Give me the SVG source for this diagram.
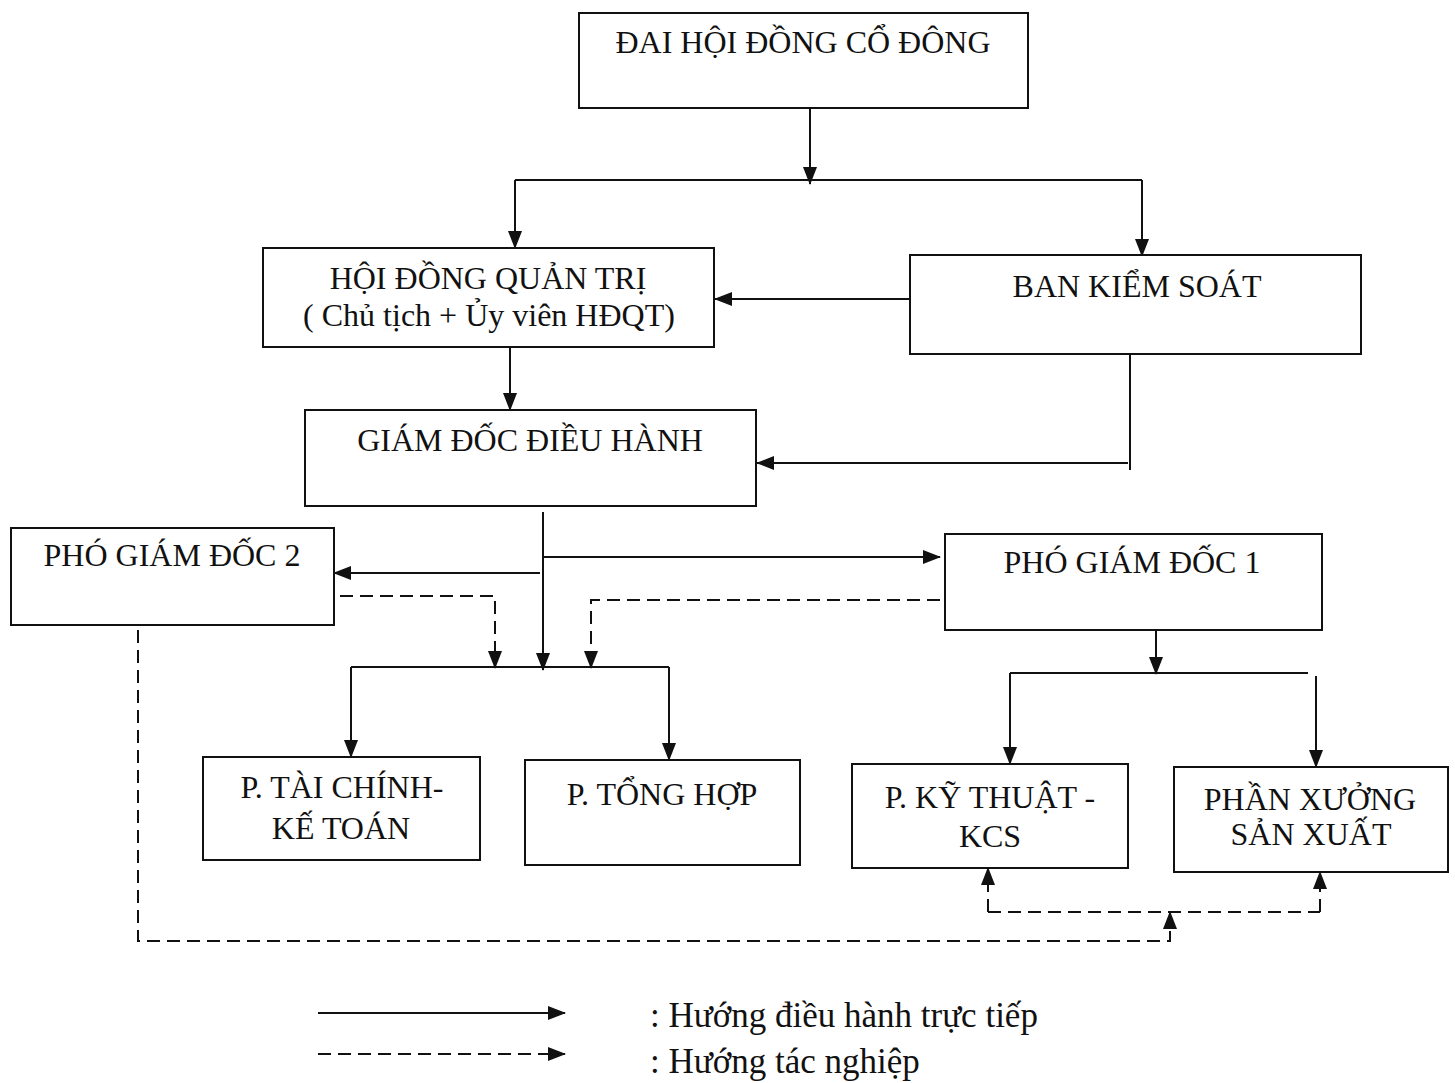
<svg xmlns="http://www.w3.org/2000/svg" width="1455" height="1083" viewBox="0 0 1455 1083">
<style>
.box{fill:#fff;stroke:#111;stroke-width:2}
.t{font-family:"Liberation Serif","Times New Roman",serif;font-size:32px;fill:#111;text-anchor:middle}
.l{font-family:"Liberation Serif","Times New Roman",serif;font-size:35px;fill:#111}
.c{fill:none;stroke:#111;stroke-width:2}
.d{fill:none;stroke:#111;stroke-width:2;stroke-dasharray:13 7}
</style>
<defs>
<marker id="a" markerUnits="userSpaceOnUse" markerWidth="18" markerHeight="16" refX="17" refY="8" orient="auto">
<path d="M0,1 L18,8 L0,15 Z" fill="#111"/>
</marker>
</defs>
<rect width="1455" height="1083" fill="#fff"/>
<g id="connectors">
<path class="c" d="M810,108 V184" marker-end="url(#a)"/>
<path class="c" d="M515,180 H1142"/>
<path class="c" d="M515,180 V248" marker-end="url(#a)"/>
<path class="c" d="M1142,180 V256" marker-end="url(#a)"/>
<path class="c" d="M910,299 H715" marker-end="url(#a)"/>
<path class="c" d="M510,347 V410" marker-end="url(#a)"/>
<path class="c" d="M1130,354 V470"/>
<path class="c" d="M1128,463 H757" marker-end="url(#a)"/>
<path class="c" d="M543,512 V670" marker-end="url(#a)"/>
<path class="c" d="M543,557 H940" marker-end="url(#a)"/>
<path class="c" d="M540,573 H334" marker-end="url(#a)"/>
<path class="d" d="M340,596 H495 V668" marker-end="url(#a)"/>
<path class="d" d="M940,600 H591 V668" marker-end="url(#a)"/>
<path class="c" d="M351,667 H669"/>
<path class="c" d="M351,667 V757" marker-end="url(#a)"/>
<path class="c" d="M669,667 V760" marker-end="url(#a)"/>
<path class="c" d="M1156,630 V674" marker-end="url(#a)"/>
<path class="c" d="M1010,673 H1308"/>
<path class="c" d="M1010,673 V764" marker-end="url(#a)"/>
<path class="c" d="M1316,676 V767" marker-end="url(#a)"/>
<path class="d" d="M138,630 V941 H1170 V912" marker-end="url(#a)"/>
<path class="d" d="M988,912 H1320"/>
<path class="d" d="M988,912 V868" marker-end="url(#a)"/>
<path class="d" d="M1320,912 V872" marker-end="url(#a)"/>
<path class="c" d="M318,1013 H565" marker-end="url(#a)"/>
<path class="d" d="M318,1054 H565" marker-end="url(#a)"/>
</g>
<g id="dhdcd"><rect class="box" x="579" y="13" width="449" height="95"/><text class="t" x="803" y="53">ĐAI HỘI ĐỒNG CỔ ĐÔNG</text></g>
<g id="hdqt"><rect class="box" x="263" y="248" width="451" height="99"/><text class="t" x="488" y="289">HỘI ĐỒNG QUẢN TRỊ</text><text class="t" x="489" y="326">( Chủ tịch + Ủy viên HĐQT)</text></g>
<g id="bks"><rect class="box" x="910" y="255" width="451" height="99"/><text class="t" x="1137" y="297">BAN KIỂM SOÁT</text></g>
<g id="gddh"><rect class="box" x="305" y="410" width="451" height="96"/><text class="t" x="530" y="451">GIÁM ĐỐC ĐIỀU HÀNH</text></g>
<g id="pgd2"><rect class="box" x="11" y="528" width="323" height="97"/><text class="t" x="172" y="566">PHÓ GIÁM ĐỐC 2</text></g>
<g id="pgd1"><rect class="box" x="945" y="534" width="377" height="96"/><text class="t" x="1132" y="573">PHÓ GIÁM ĐỐC 1</text></g>
<g id="tckt"><rect class="box" x="203" y="757" width="277" height="103"/><text class="t" x="342" y="798">P. TÀI CHÍNH-</text><text class="t" x="341" y="839">KẾ TOÁN</text></g>
<g id="th"><rect class="box" x="525" y="760" width="275" height="105"/><text class="t" x="662" y="805">P. TỔNG HỢP</text></g>
<g id="kt"><rect class="box" x="852" y="764" width="276" height="104"/><text class="t" x="990" y="808">P. KỸ THUẬT -</text><text class="t" x="990" y="847">KCS</text></g>
<g id="px"><rect class="box" x="1174" y="767" width="274" height="105"/><text class="t" x="1310" y="810">PHẦN XƯỞNG</text><text class="t" x="1311" y="845">SẢN XUẤT</text></g>
<g id="legend"><text class="l" x="650" y="1027">: Hướng điều hành trực tiếp</text><text class="l" x="650" y="1073">: Hướng tác nghiệp</text></g>
</svg>
